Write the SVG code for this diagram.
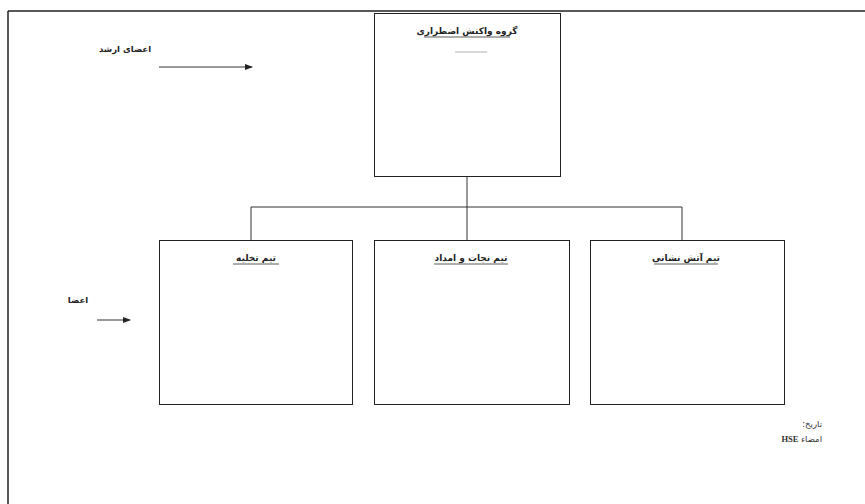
<svg xmlns="http://www.w3.org/2000/svg" width="865" height="504" viewBox="0 0 865 504">
<style>
.box{fill:#fff;stroke:#222;stroke-width:1}
.ln{fill:none;stroke:#333;stroke-width:1}
.t{font-family:"DejaVu Sans",sans-serif;font-size:9px;font-weight:bold;fill:#222;text-anchor:middle;direction:rtl}
.s{font-family:"DejaVu Sans",sans-serif;font-size:8.5px;fill:#333;direction:rtl}
.u{stroke:#333;stroke-width:0.8}
</style>
<defs>
<marker id="ah" markerWidth="8" markerHeight="6" refX="7" refY="3" orient="auto" markerUnits="userSpaceOnUse">
<path d="M0,0 L8,3 L0,6 Z" fill="#222"/>
</marker>
</defs>
<rect width="865" height="504" fill="#fff"/>
<g id="frame">
<path d="M8,11 H865 M8,11 V504" fill="none" stroke="#222" stroke-width="1.5"/>
</g>
<g id="connectors">
<path class="ln" d="M467,177 V207 M251,207 H682 M251,207 V240 M467,207 V240 M682,207 V240"/>
<line class="ln" x1="159" y1="67" x2="252" y2="67" marker-end="url(#ah)"/>
<line class="ln" x1="97" y1="320" x2="130" y2="320" marker-end="url(#ah)"/>
</g>
<g id="node-top">
<rect class="box" x="374.5" y="13.5" width="186" height="163"/>
<text class="t" x="467" y="34">گروه واکنش اضطراری</text>
<line class="u" x1="424" y1="37" x2="510" y2="37"/>
<line x1="455" y1="52" x2="487" y2="52" stroke="#999" stroke-width="0.8"/>
</g>
<g id="node-evac">
<rect class="box" x="159.5" y="240.5" width="193" height="164"/>
<text class="t" x="256" y="261">تیم تخلیه</text>
<line class="u" x1="233" y1="264" x2="279" y2="264"/>
</g>
<g id="node-rescue">
<rect class="box" x="374.5" y="240.5" width="195" height="164"/>
<text class="t" x="471" y="261">تیم نجات و امداد</text>
<line class="u" x1="434" y1="264" x2="508" y2="264"/>
</g>
<g id="node-fire">
<rect class="box" x="590.5" y="240.5" width="194" height="164"/>
<text class="t" x="686" y="261">تیم آتش نشانی</text>
<line class="u" x1="654" y1="264" x2="718" y2="264"/>
</g>
<g id="labels">
<text class="t" x="125" y="52" style="font-size:8.5px">اعضای ارشد</text>
<text class="t" x="78" y="303" style="font-size:8.5px">اعضا</text>
<text class="s" x="822" y="427" text-anchor="start">تاریخ:</text>
<text class="s" x="822" y="442" text-anchor="start">امضاء <tspan font-family="Liberation Serif" font-weight="bold">HSE</tspan></text>
</g>
</svg>
